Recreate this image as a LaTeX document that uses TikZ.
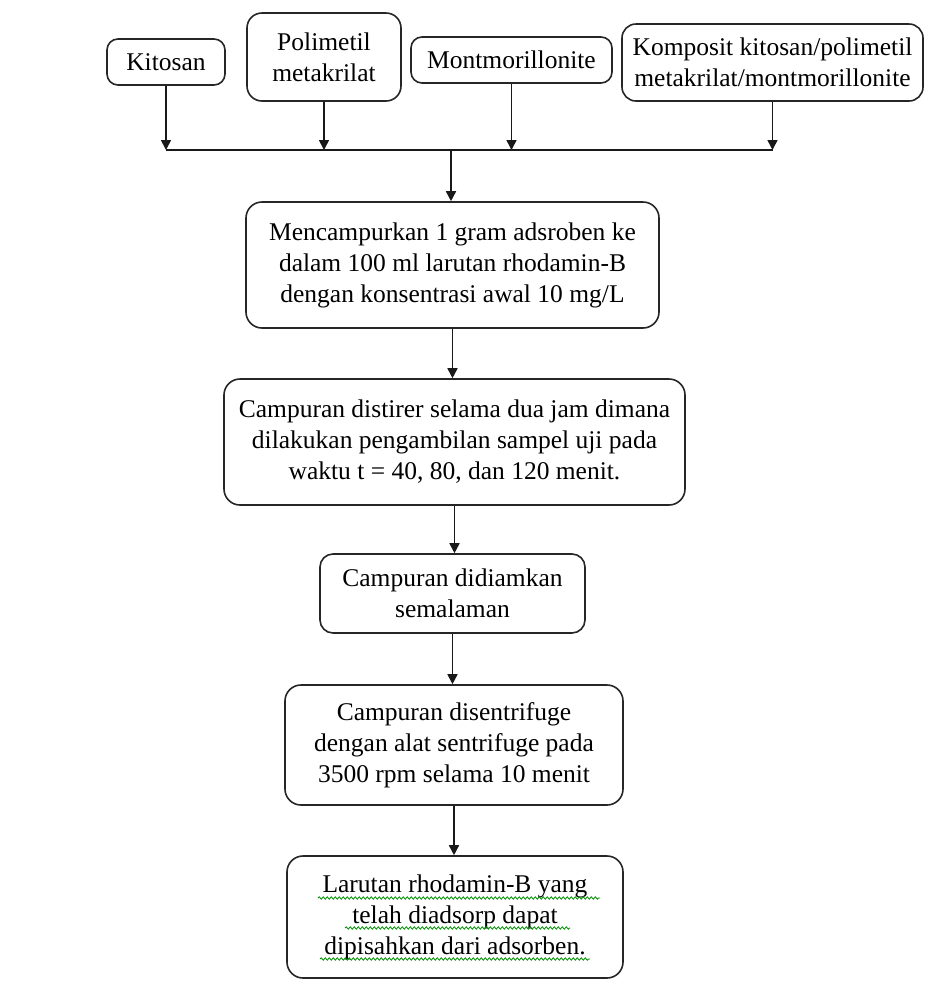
\documentclass[tikz,border=0pt]{standalone}
\usepackage{fontspec}
\setmainfont{Liberation Serif}
\usetikzlibrary{arrows.meta,decorations.pathmorphing}
\begin{document}
\begin{tikzpicture}[x=1pt,y=-1pt,
  box/.style={draw=black!85, line width=1.6pt, rounded corners=11pt, align=center,
              inner sep=0pt, font=\fontsize{25.5}{31}\selectfont},
  arr/.style={line width=1.6pt, draw=black!90, -{Triangle[length=10pt,width=10pt]}},
  bus/.style={line width=1.6pt, draw=black!90},
  squig/.style={draw=green!55!black, line width=0.8pt, decorate,
                decoration={snake, segment length=4pt, amplitude=1.2pt}}]
\useasboundingbox (0,0) rectangle (930,1005);

% top row
\node[box, minimum width=118pt, minimum height=46pt] (kit) at (166,62) {Kitosan};
\node[box, minimum width=154pt, minimum height=88pt, rounded corners=15pt] (pol) at (324,57) {Polimetil\\metakrilat};
\node[box, minimum width=201pt, minimum height=46pt] (mon) at (511.5,60) {Montmorillonite};
\node[box, minimum width=301pt, minimum height=77pt, rounded corners=14pt] (kom) at (772.5,62.5) {Komposit kitosan/polimetil\\metakrilat/montmorillonite};

% process boxes
\node[box, minimum width=413pt, minimum height=126pt, rounded corners=16pt] (b1) at (452.5,265)
  {Mencampurkan 1 gram adsroben ke\\dalam 100 ml larutan rhodamin-B\\dengan konsentrasi awal 10 mg/L};
\node[box, minimum width=461pt, minimum height=126pt, rounded corners=16pt] (b2) at (454.5,442)
  {Campuran distirer selama dua jam dimana\\dilakukan pengambilan sampel uji pada\\waktu t = 40, 80, dan 120 menit.};
\node[box, minimum width=265pt, minimum height=79pt, rounded corners=13pt] (b3) at (452.5,593.5)
  {Campuran didiamkan\\semalaman};
\node[box, minimum width=338pt, minimum height=120pt, rounded corners=16pt] (b4) at (454,745)
  {Campuran disentrifuge\\dengan alat sentrifuge pada\\3500 rpm selama 10 menit};
\node[box, minimum width=336pt, minimum height=122pt, rounded corners=16pt] (b5) at (455,917)
  {Larutan rhodamin-B yang\\telah diadsorp dapat\\dipisahkan dari adsorben.};

% spell-check squiggles
\draw[squig] (318,898) -- (600,898);
\draw[squig] (345,928) -- (570,928);
\draw[squig] (320,959) -- (590,959);

% bus
\coordinate (hub) at (451,150);
\draw[arr] (kit.south) -- (kit.south |- hub);
\draw[arr] (pol.south) -- (pol.south |- hub);
\draw[arr] (mon.south) -- (mon.south |- hub);
\draw[arr] (kom.south) -- (kom.south |- hub);
\draw[bus] (kit.south |- hub) -- (kom.south |- hub);
\draw[arr] (hub) -- (hub |- b1.north);

% chain
\draw[arr] (b1.south) -- (b2.north -| b1.south);
\draw[arr] (b2.south) -- (b3.north -| b2.south);
\draw[arr] (b3.south) -- (b4.north -| b3.south);
\draw[arr] (b4.south) -- (b5.north -| b4.south);
\end{tikzpicture}
\end{document}
